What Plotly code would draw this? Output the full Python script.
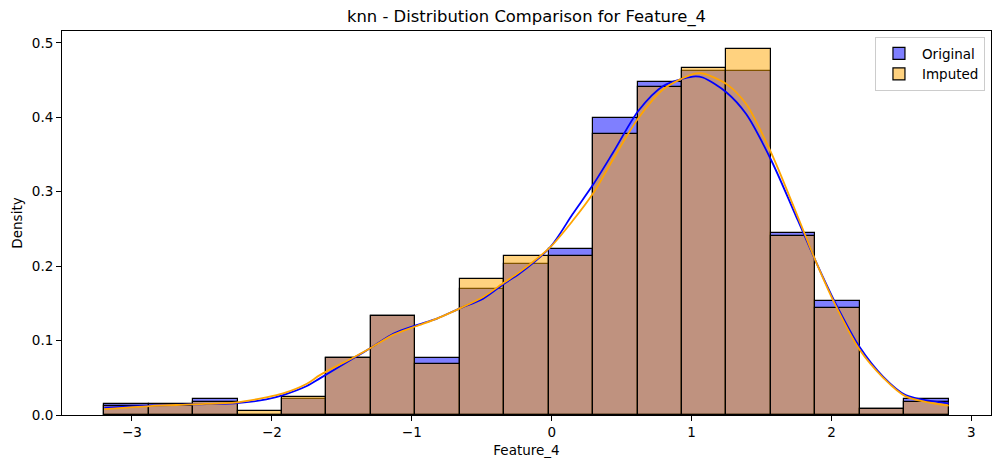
import numpy as np
import plotly.graph_objects as go

# bin edges (19 bins)
bin_edges = [-3.198, -2.880, -2.563, -2.245, -1.927, -1.610, -1.292, -0.974,
             -0.657, -0.339, -0.021, 0.296, 0.614, 0.932, 1.249, 1.567,
             1.885, 2.202, 2.520, 2.838]

# histogram densities
original_density = [0.0147, 0.0147, 0.0210, 0.0, 0.0210, 0.0770, 0.1330,
                    0.0768, 0.1690, 0.2033, 0.2234, 0.3990, 0.4480, 0.4625,
                    0.4625, 0.2444, 0.1537, 0.0076, 0.0210]
imputed_density = [0.0125, 0.0125, 0.0174, 0.0056, 0.0240, 0.0768, 0.1330,
                   0.0690, 0.1830, 0.2136, 0.2136, 0.3776, 0.4410, 0.4660,
                   0.4915, 0.2400, 0.1444, 0.0076, 0.0178]

# kde curves
kde_x = [-3.198, -2.87, -2.56, -2.25, -2.04, -1.92, -1.75, -1.657, -1.42, -1.30,
         -1.13, -0.97, -0.82, -0.66, -0.49, -0.34, -0.23, -0.01, 0.15, 0.30,
         0.44, 0.62, 0.80, 1.01, 1.08, 1.25, 1.39, 1.57, 1.76, 1.89, 2.03,
         2.20, 2.37, 2.53, 2.838]
kde_original = [0.0098, 0.0125, 0.0143, 0.0160, 0.0210, 0.0268, 0.0390, 0.0492,
                0.0760, 0.0894, 0.1095, 0.1206, 0.1296, 0.1430, 0.1564, 0.1765,
                0.1900, 0.2256, 0.2700, 0.3106, 0.3530, 0.4088, 0.4424, 0.4548,
                0.4535, 0.4334, 0.4044, 0.3420, 0.2614, 0.2055, 0.1497, 0.0916,
                0.0513, 0.0268, 0.0157]
kde_imputed = [0.0080, 0.0120, 0.0143, 0.0170, 0.0237, 0.0290, 0.0420, 0.0536,
               0.0770, 0.0894, 0.1080, 0.1193, 0.1296, 0.1430, 0.1586, 0.1780,
               0.1920, 0.2256, 0.2610, 0.2990, 0.3440, 0.3990, 0.4380, 0.4580,
               0.4589, 0.4446, 0.4178, 0.3520, 0.2660, 0.2055, 0.1470, 0.0880,
               0.0500, 0.0250, 0.0125]

edges = np.array(bin_edges)
centers = (edges[:-1] + edges[1:]) / 2
widths = np.diff(edges)

FONT = "DejaVu Sans"

fig = go.Figure()
fig.add_trace(go.Bar(name="Original", x=centers, y=original_density, width=widths,
                     marker=dict(color="rgba(0,0,255,0.5)",
                                 line=dict(color="black", width=1.2))))
fig.add_trace(go.Bar(name="Imputed", x=centers, y=imputed_density, width=widths,
                     marker=dict(color="rgba(255,165,0,0.5)",
                                 line=dict(color="black", width=1.2))))
fig.add_trace(go.Scatter(x=kde_x, y=kde_original, mode="lines", showlegend=False,
                         line=dict(color="blue", width=1.8, shape="spline",
                                   smoothing=0.8)))
fig.add_trace(go.Scatter(x=kde_x, y=kde_imputed, mode="lines", showlegend=False,
                         line=dict(color="orange", width=1.8, shape="spline",
                                   smoothing=0.8)))

# page has an 8px body margin, so the figure is a bit smaller than the window
fig.update_layout(
    width=993, height=452,
    margin=dict(l=54, r=10, t=23, b=45),
    barmode="overlay", bargap=0,
    plot_bgcolor="white", paper_bgcolor="white",
    font=dict(family=FONT, size=13.5, color="black"),
    title=dict(text="knn - Distribution Comparison for Feature_4",
               x=0.5, xref="paper", xanchor="center",
               y=1 - 8 / 452, yref="container", yanchor="middle",
               font=dict(size=16.4)),
    legend=dict(x=0.9935, y=0.984, xanchor="right", yanchor="top",
                bgcolor="rgba(255,255,255,0.8)", bordercolor="#cccccc", borderwidth=1,
                font=dict(size=13.5), itemwidth=36, tracegroupgap=0),
)
fig.update_xaxes(range=[-3.5, 3.14], tickvals=[-3, -2, -1, 0, 1, 2, 3],
                 showline=True, linecolor="black", linewidth=1, mirror=True,
                 ticks="outside", ticklen=5, tickcolor="black", showgrid=False,
                 zeroline=False, automargin=False,
                 title=dict(text="Feature_4", standoff=6, font=dict(size=13.5)))
fig.update_yaxes(range=[0, 0.516], tickvals=[0, 0.1, 0.2, 0.3, 0.4, 0.5],
                 tickformat=".1f",
                 showline=True, linecolor="black", linewidth=1, mirror=True,
                 ticks="outside", ticklen=5, tickcolor="black", showgrid=False,
                 zeroline=False, automargin=False,
                 title=dict(text="Density", standoff=6, font=dict(size=13.5)))

fig.write_html("out.html")
